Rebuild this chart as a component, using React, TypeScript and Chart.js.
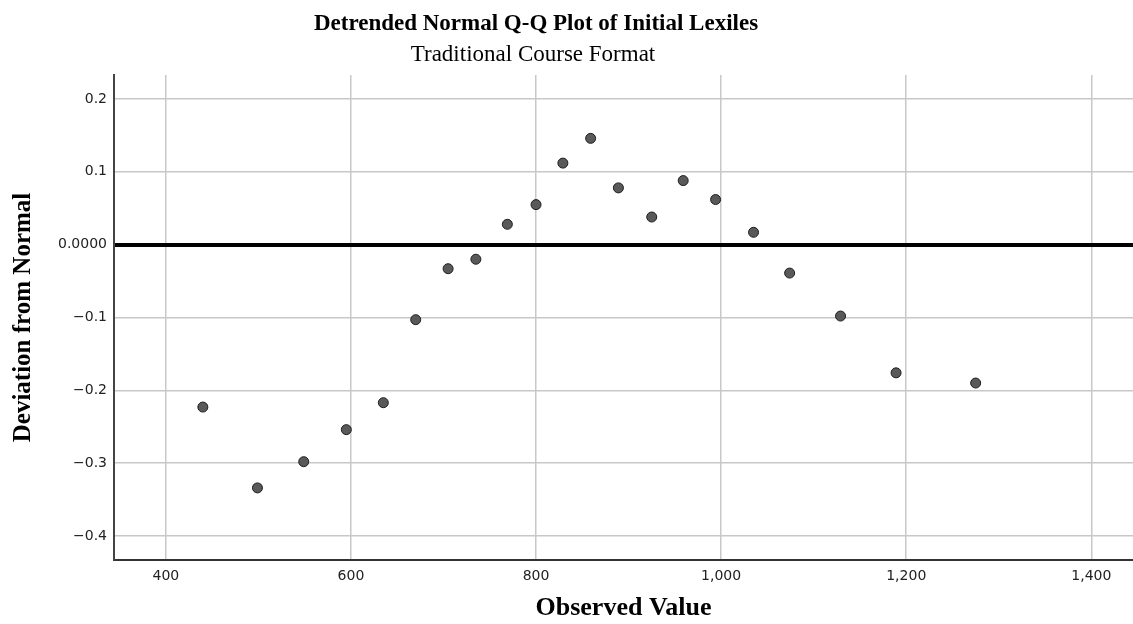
import React, { useEffect, useRef } from "react";
import { Chart, registerables } from "chart.js";

Chart.register(...registerables);

const observedValues = [440, 499, 549, 595, 635, 670, 705, 735, 769, 800, 829, 859, 889, 925, 959, 994, 1035, 1074, 1129, 1189, 1275];
const deviations = [-0.223, -0.334, -0.298, -0.254, -0.217, -0.103, -0.033, -0.02, 0.028, 0.055, 0.112, 0.146, 0.078, 0.038, 0.088, 0.062, 0.017, -0.039, -0.098, -0.176, -0.19];
const xTicks = [400, 600, 800, 1000, 1200, 1400];
const yTicks = [-0.4, -0.3, -0.2, -0.1, 0, 0.1, 0.2];
const titleText = "Detrended Normal Q-Q Plot of Initial Lexiles";
const subtitleText = "Traditional Course Format";
const xTitle = "Observed Value";
const yTitle = "Deviation from Normal";

const titlePlugin = {
  id: "customTitles",
  afterDraw(chart: any) {
    const ctx = chart.ctx;
    ctx.save();
    ctx.fillStyle = "#000";
    ctx.textAlign = "center";
    ctx.textBaseline = "alphabetic";
    ctx.font = "bold 23px 'Liberation Serif'";
    ctx.fillText(titleText, 536, 30);
    ctx.font = "23px 'Liberation Serif'";
    ctx.fillText(subtitleText, 533, 61);
    ctx.restore();
  },
};

export default function App() {
  const ref = useRef<HTMLCanvasElement | null>(null);
  useEffect(() => {
    if (!ref.current) return;
    const points = observedValues.map((x, i) => ({ x, y: deviations[i] }));
    const chart = new Chart(ref.current, {
      type: "scatter",
      data: {
        datasets: [
          {
            data: points,
            backgroundColor: "#595959",
            borderColor: "#1e1e1e",
            borderWidth: 1,
            pointRadius: 5,
            pointHoverRadius: 5,
          },
        ],
      },
      options: {
        responsive: false,
        animation: false,
        layout: { autoPadding: false, padding: { top: 75, left: 0, right: 0, bottom: 0 } },
        plugins: {
          legend: { display: false },
          tooltip: { enabled: false },
          title: { display: false },
        },
        scales: {
          x: {
            type: "linear",
            min: 344,
            max: 1445,
            afterBuildTicks: (axis: any) => {
              axis.ticks = xTicks.map((v) => ({ value: v }));
            },
            afterFit: (axis: any) => {
              axis.height = 64;
              axis.paddingRight = 0;
              axis.paddingLeft = 0;
            },
            grid: { color: "#c8c8c8", lineWidth: 1.5, drawTicks: false },
            border: { display: true, color: "#333", width: 2 },
            ticks: {
              padding: 8,
              color: "#222",
              font: { family: "'DejaVu Sans'", size: 14 },
              callback: (v: any) => Number(v).toLocaleString("en-US"),
            },
            title: {
              display: true,
              text: xTitle,
              color: "#000",
              font: { family: "'Liberation Serif'", size: 26, weight: "bold", lineHeight: 1.2 },
              padding: { top: 0, bottom: 0 },
            },
          },
          y: {
            type: "linear",
            min: -0.433,
            max: 0.233,
            afterBuildTicks: (axis: any) => {
              axis.ticks = yTicks.map((v) => ({ value: v }));
            },
            afterFit: (axis: any) => {
              axis.width = 114;
              axis.paddingTop = 0;
              axis.paddingBottom = 0;
            },
            grid: {
              color: (c: any) => (c.tick && c.tick.value === 0 ? "#000" : "#c8c8c8"),
              lineWidth: (c: any) => (c.tick && c.tick.value === 0 ? 4 : 1.5),
              drawTicks: false,
            },
            border: { display: true, color: "#444", width: 2 },
            ticks: {
              padding: 7,
              color: "#222",
              font: { family: "'DejaVu Sans'", size: 14 },
              callback: (v: any) => {
                const n = Number(v);
                if (Math.abs(n) < 1e-9) return "0.0000";
                return n.toFixed(1).replace("-", "\u2212");
              },
            },
            title: {
              display: true,
              text: yTitle,
              color: "#000",
              font: { family: "'Liberation Serif'", size: 25, weight: "bold", lineHeight: 1.2 },
              padding: { top: 8.5, bottom: 0 },
            },
          },
        },
      },
      plugins: [titlePlugin],
    });
    return () => chart.destroy();
  }, []);
  return (
    <canvas
      ref={ref}
      width={1133}
      height={624}
      style={{ position: "fixed", left: 0, top: 0, display: "block", width: 1133, height: 624 }}
    />
  );
}
